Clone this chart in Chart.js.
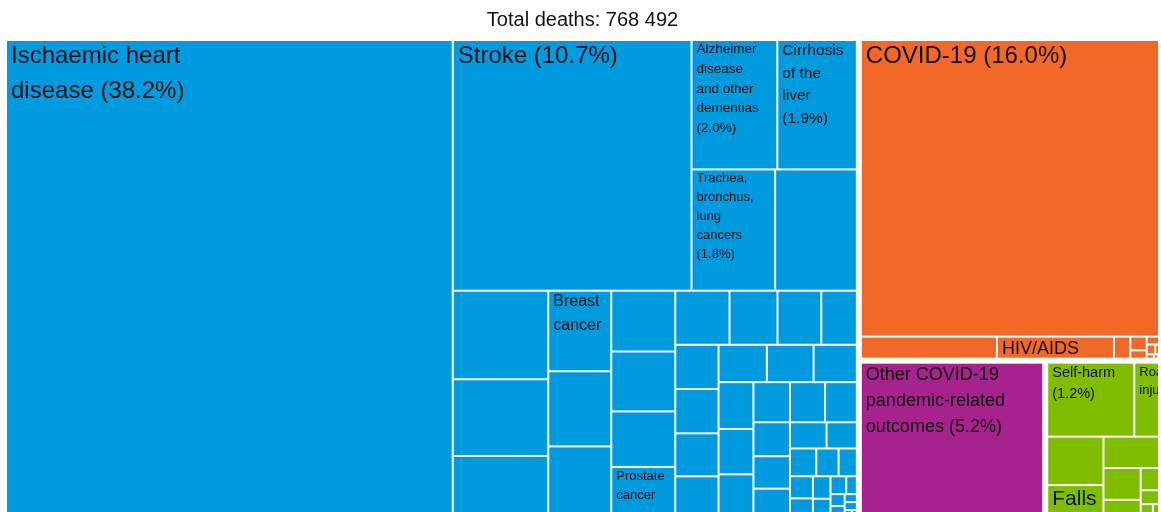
<!DOCTYPE html>
<html>
<head>
<meta charset="utf-8">
<script src="https://cdn.jsdelivr.net/npm/chart.js@4"></script>
<style>
    html, body { margin: 0; padding: 0; background: #fff; overflow: hidden; }
    #wrap { width: 1161px; height: 518px; position: relative; }
</style>
</head>
<body>
<div id="wrap"><canvas id="myChart"></canvas></div>
<script>
const chartTitle = 'Total deaths: 768 492';

const groupNames = ['Noncommunicable diseases', 'Communicable, maternal, perinatal and nutritional conditions',
                    'Other COVID-19 pandemic-related outcomes', 'Injuries'];
const groupColors = ['#009ADE', '#F26829', '#A6228C', '#80BC00'];

// share of all deaths (%), labels use \n where the text wraps, '' = no label
const ncdHeadLabels = ['Ischaemic heart\ndisease'];
const ncdHeadValues = [38.2];
const ncdBandLabels = ['Stroke', 'Alzheimer\ndisease\nand other\ndementias', 'Cirrhosis\nof the\nliver',
                       'Trachea,\nbronchus,\nlung\ncancers', ''];
const ncdBandValues = [10.7, 2.0, 1.9, 1.8, 1.8];
const ncdRestLabels = ['', '', '', 'Breast\ncancer', '', '', '', '', '', 'Prostate\ncancer'];
const ncdRestValues = [1.5, 1.3, 1.05, 0.9, 0.84, 0.8, 0.69, 0.68, 0.63, 0.58, 0.52, 0.46, 0.42, 0.36,
                       0.34, 0.34, 0.33, 0.32, 0.32, 0.31, 0.3, 0.29, 0.28, 0.27, 0.26, 0.25, 0.24, 0.22,
                       0.21, 0.19, 0.17, 0.15, 0.13, 0.11, 0.1, 0.09, 0.08, 0.07, 0.06, 0.05, 0.04, 0.03,
                       0.03, 0.02, 0.02, 0.01, 0.01];

const cmpnLabels = ['COVID-19', '', 'HIV/AIDS'];
const cmpnValues = [16.0, 0.59, 0.5, 0.07, 0.04, 0.03, 0.02, 0.015, 0.01, 0.008, 0.005, 0.003];

const covidOtherLabels = ['Other COVID-19\npandemic-related\noutcomes'];
const covidOtherValues = [5.2];

const injHeadLabels = ['Self-harm', 'Road\ninjury'];
const injHeadValues = [1.2, 0.36];
const injRestLabels = ['', 'Falls'];
const injRestValues = [0.5, 0.34, 0.32, 0.21, 0.12, 0.08, 0.05, 0.03, 0.02];

// label font size (px), keyed by first line of the label
const labelSizes = {
    'Ischaemic heart': 24, 'Stroke': 24, 'COVID-19': 24, 'Other COVID-19': 18,
    'Alzheimer': 13.5, 'Cirrhosis': 15.5, 'Trachea,': 13, 'Breast': 16, 'Prostate': 13,
    'HIV/AIDS': 18, 'Self-harm': 14.5, 'Road': 13, 'Falls': 21
};
const fontFamily = '"Liberation Sans", Arial, Helvetica, sans-serif';

function leaves(labels, values) {
    return values.map((v, i) => ({ label: labels[i] || '', value: v }));
}

function branch(children) {
    return { children: children, value: children.reduce((s, c) => s + c.value, 0) };
}

function buildTree() {
    const groups = [
        branch([...leaves(ncdHeadLabels, ncdHeadValues),
                branch(leaves(ncdBandLabels, ncdBandValues)),
                branch(leaves(ncdRestLabels, ncdRestValues))]),
        branch(leaves(cmpnLabels, cmpnValues)),
        branch(leaves(covidOtherLabels, covidOtherValues)),
        branch([branch(leaves(injHeadLabels, injHeadValues)),
                ...leaves(injRestLabels, injRestValues)])
    ];
    groups.forEach((g, i) => { g.name = groupNames[i]; g.color = groupColors[i]; });
    return branch(groups);
}

// squarified tiling (ratio 1)
function squarify(nodes, x0, y0, x1, y1) {
    let value = nodes.reduce((s, n) => s + n.value, 0);
    let i0 = 0, i1 = 0;
    const n = nodes.length;
    while (i0 < n) {
        const dx = x1 - x0, dy = y1 - y0;
        let sum = nodes[i1++].value;
        let minV = sum, maxV = sum;
        const alpha = Math.max(dy / dx, dx / dy) / value;
        let beta = sum * sum * alpha;
        let minRatio = Math.max(maxV / beta, beta / minV);
        for (; i1 < n; ++i1) {
            const v = nodes[i1].value;
            sum += v;
            if (v < minV) minV = v;
            if (v > maxV) maxV = v;
            beta = sum * sum * alpha;
            const r = Math.max(maxV / beta, beta / minV);
            if (r > minRatio) { sum -= v; break; }
            minRatio = r;
        }
        const row = nodes.slice(i0, i1);
        if (dx < dy) {
            const yb = i1 < n ? y0 + dy * sum / value : y1;
            let x = x0;
            row.forEach((nd, k) => {
                const xe = k === row.length - 1 ? x1 : x + dx * nd.value / sum;
                nd.rect = [x, y0, xe, yb];
                x = xe;
            });
            y0 = yb;
        } else {
            const xb = i1 < n ? x0 + dx * sum / value : x1;
            let y = y0;
            row.forEach((nd, k) => {
                const ye = k === row.length - 1 ? y1 : y + dy * nd.value / sum;
                nd.rect = [x0, y, xb, ye];
                y = ye;
            });
            x0 = xb;
        }
        value -= sum;
        i0 = i1;
    }
}

function layout(node) {
    if (!node.children) return;
    squarify(node.children, ...node.rect);
    node.children.forEach(layout);
}

function collectLeaves(node, out) {
    if (node.children) node.children.forEach(c => collectLeaves(c, out));
    else out.push(node);
    return out;
}

const treemapPlugin = {
    id: 'treemap',
    afterDatasetsDraw(chart) {
        const { ctx, chartArea, scales } = chart;
        const aspect = chartArea.width / chartArea.height;
        const root = buildTree();
        root.rect = [0, 0, aspect, 1];
        layout(root);

        const toPx = r => [scales.x.getPixelForValue(r[0] / aspect), scales.y.getPixelForValue(r[1]),
                           scales.x.getPixelForValue(r[2] / aspect), scales.y.getPixelForValue(r[3])];

        ctx.save();
        root.children.forEach(group => {
            const g = toPx(group.rect);
            const gx0 = g[0] + 2, gy0 = g[1] + 2, gx1 = g[2] - 2, gy1 = g[3] - 2;
            collectLeaves(group, []).forEach(leaf => {
                const p = toPx(leaf.rect);
                const x0 = Math.max(p[0], gx0) + 1, y0 = Math.max(p[1], gy0) + 1;
                const x1 = Math.min(p[2], gx1) - 1, y1 = Math.min(p[3], gy1) - 1;
                if (x1 <= x0 || y1 <= y0) return;
                ctx.fillStyle = group.color;
                ctx.fillRect(x0, y0, x1 - x0, y1 - y0);

                if (!leaf.label) return;
                const lines = leaf.label.split('\n');
                const fs = labelSizes[lines[0]] || 12;
                if (leaf.value >= 1) {
                    const pct = '(' + leaf.value.toFixed(1) + '%)';
                    if (x1 - x0 < 120) lines.push(pct);
                    else lines[lines.length - 1] += ' ' + pct;
                }
                ctx.save();
                ctx.beginPath();
                ctx.rect(x0, y0, x1 - x0, y1 - y0);
                ctx.clip();
                ctx.fillStyle = '#111';
                ctx.font = fs + 'px ' + fontFamily;
                ctx.textBaseline = 'alphabetic';
                ctx.textAlign = 'left';
                lines.forEach((t, i) => {
                    ctx.fillText(t, x0 + 4, y0 + 0.92 * fs + i * 1.45 * fs);
                });
                ctx.restore();
            });
        });
        ctx.restore();
    }
};

const ctx = document.getElementById('myChart').getContext('2d');
const myChart = new Chart(ctx, {
    type: 'scatter',
    data: { datasets: [{ data: [] }] },
    options: {
        responsive: true,
        maintainAspectRatio: false,
        animation: false,
        layout: { padding: { left: 4, right: 0, top: 0, bottom: 0 } },
        scales: {
            x: { type: 'linear', min: 0, max: 1, display: false },
            y: { type: 'linear', min: 0, max: 1, reverse: true, display: false }
        },
        plugins: {
            legend: { display: false },
            tooltip: { enabled: false },
            title: {
                display: true,
                text: chartTitle,
                color: '#111',
                font: { size: 20, family: fontFamily, weight: 'normal' },
                padding: { top: 8, bottom: 6 }
            }
        }
    },
    plugins: [treemapPlugin]
});
</script>
</body>
</html>
